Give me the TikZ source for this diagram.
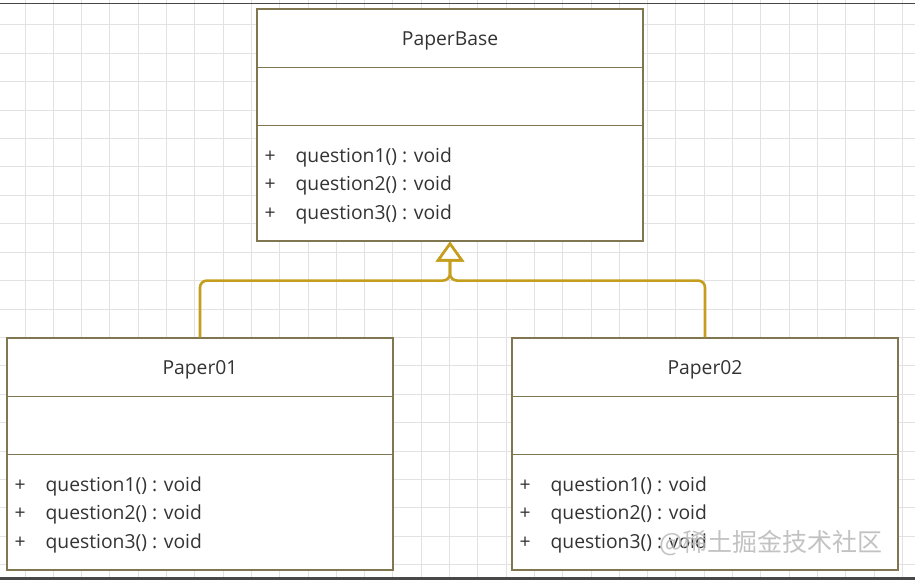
\documentclass[tikz,border=0pt]{standalone}
\usepackage{fontspec}
\setmainfont{Open Sans}
\newfontfamily\cjkfont{Noto Sans CJK SC}
\usetikzlibrary{arrows.meta}

\definecolor{umlborder}{RGB}{128,118,80}
\definecolor{umlgold}{RGB}{196,158,28}
\definecolor{gridgray}{RGB}{226,226,226}
\definecolor{umltext}{RGB}{51,51,51}
\definecolor{framegray}{RGB}{72,72,72}

\begin{document}
\begin{tikzpicture}[
        x=1pt, y=-1pt,
        >={Triangle[open, fill=white, length=20pt, width=28pt]},
        gridline/.style={
            draw=gridgray,
            line width=1pt
        },
        classbox/.style={
            rectangle,
            draw=umlborder,
            line width=1.1pt,
            fill=white,
            minimum width=386pt,
            minimum height=232pt,
            inner sep=0pt
        },
        divider/.style={
            draw=umlborder,
            line width=1.1pt
        },
        classname/.style={
            font=\fontsize{19.3}{22}\selectfont,
            text=umltext,
            inner sep=0pt,
            anchor=base
        },
        member/.style={
            font=\fontsize{19.3}{22}\selectfont,
            text=umltext,
            inner sep=0pt,
            anchor=base west
        },
        inherit/.style={
            ->,
            draw=umlgold,
            line width=2.6pt,
            rounded corners=7pt
        },
        watermark/.style={
            font=\cjkfont\fontsize{25}{28}\selectfont,
            text=black!28,
            opacity=0.85,
            inner sep=0pt
        }
    ]

    \useasboundingbox (0,0) rectangle (915,580);
    \fill[white] (0,0) rectangle (915,580);

    % background grid
    \foreach \gx in {-3.3,25,...,915} {
        \draw[gridline] (\gx,0) -- (\gx,580);
    }
    \foreach \gy in {-3.4,25,...,580} {
        \draw[gridline] (0,\gy) -- (915,\gy);
    }
    \draw[framegray, line width=1.2pt] (0,3.5) -- (915,3.5);
    \fill[framegray] (0,577) rectangle (915,580);

    % classes
    \foreach \name/\cx/\cy/\title in {base/450/125/PaperBase, paperA/200/454/Paper01, paperB/705/454/Paper02} {
        \node[classbox] (\name) at (\cx,\cy) {};
        \node[classname] (\name-title) at ([yshift=-37pt]\name.north) {\title};
        \draw[divider] ([yshift=-59pt]\name.north west) -- ([yshift=-59pt]\name.north east);
        \draw[divider] ([yshift=-117pt]\name.north west) -- ([yshift=-117pt]\name.north east);
        \foreach \k in {1,2,3} {
            \node[member] (\name-p\k) at ([xshift=8pt, yshift={-(154+28.5*(\k-1))*1pt}]\name.north west) {+};
            \node[member] (\name-m\k) at ([xshift=39pt, yshift={-(154+28.5*(\k-1))*1pt}]\name.north west) {question\k() : void};
        }
    }

    % generalisation
    \coordinate (fork) at ([yshift=-39pt]base.south);
    \draw[inherit] (paperA.north) |- (fork) -- (base.south);
    \draw[inherit] (paperB.north) |- (fork) -- (base.south);

    \node[watermark] (mark) at (771,543) {@稀土掘金技术社区};

\end{tikzpicture}
\end{document}
